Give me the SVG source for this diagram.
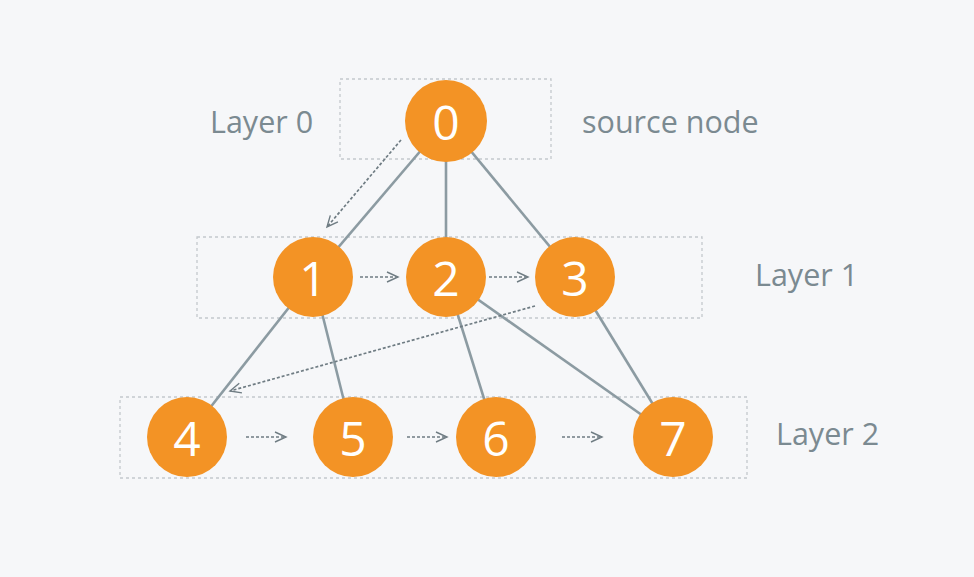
<svg xmlns="http://www.w3.org/2000/svg" width="974" height="577" viewBox="0 0 974 577">
<defs>
<style>
.box{fill:none;stroke:#c4c9cd;stroke-width:1.3;stroke-dasharray:3 3}
.edge{stroke:#8c9ba2;stroke-width:2.6;fill:none}
.arr{stroke:#6f7c83;stroke-width:1.7;stroke-dasharray:3 2;fill:none}
.node{fill:#f39325}
.num{font-family:"Open Sans","Noto Sans",sans-serif;font-size:48px;fill:#ffffff;text-anchor:middle;dominant-baseline:central}
.lbl{font-family:"Open Sans","Noto Sans",sans-serif;font-size:30.5px;fill:#7b8a91}
</style>
<marker id="ah" markerWidth="14" markerHeight="14" refX="12" refY="6" orient="auto" markerUnits="userSpaceOnUse">
<path d="M1,1 L12,6 L1,11" fill="none" stroke="#6f7c83" stroke-width="1.4"/>
</marker>
</defs>
<rect width="974" height="577" fill="#f6f7f9"/>
<g id="layers">
<rect class="box" x="340" y="79" width="211" height="80"/>
<rect class="box" x="197" y="237" width="505" height="81"/>
<rect class="box" x="120" y="397" width="627" height="81"/>
</g>
<g id="labels">
<text class="lbl" x="210" y="133">Layer 0</text>
<text class="lbl" x="582" y="133">source node</text>
<text class="lbl" x="755" y="286">Layer 1</text>
<text class="lbl" x="776" y="445">Layer 2</text>
</g>
<g id="connectors">
<line class="edge" x1="446" y1="121" x2="313" y2="277"/>
<line class="edge" x1="446" y1="121" x2="446" y2="277"/>
<line class="edge" x1="446" y1="121" x2="575" y2="277"/>
<line class="edge" x1="313" y1="277" x2="187" y2="437"/>
<line class="edge" x1="313" y1="277" x2="353" y2="437"/>
<line class="edge" x1="446" y1="277" x2="496" y2="437"/>
<line class="edge" x1="446" y1="277" x2="673" y2="437"/>
<line class="edge" x1="575" y1="277" x2="673" y2="437"/>
<line class="arr" x1="401" y1="140" x2="327" y2="227" marker-end="url(#ah)"/>
<line class="arr" x1="360" y1="277" x2="398" y2="277" marker-end="url(#ah)"/>
<line class="arr" x1="489" y1="277" x2="528" y2="277" marker-end="url(#ah)"/>
<line class="arr" x1="535" y1="306" x2="230" y2="391" marker-end="url(#ah)"/>
<line class="arr" x1="246" y1="437" x2="286" y2="437" marker-end="url(#ah)"/>
<line class="arr" x1="407" y1="437" x2="447" y2="437" marker-end="url(#ah)"/>
<line class="arr" x1="562" y1="437" x2="602" y2="437" marker-end="url(#ah)"/>
</g>
<g id="n0"><circle class="node" cx="446" cy="121" r="41"/><text class="num" x="446" y="121">0</text></g>
<g id="n1"><circle class="node" cx="313" cy="277" r="40"/><text class="num" x="313" y="277">1</text></g>
<g id="n2"><circle class="node" cx="446" cy="277" r="40"/><text class="num" x="446" y="277">2</text></g>
<g id="n3"><circle class="node" cx="575" cy="277" r="40"/><text class="num" x="575" y="277">3</text></g>
<g id="n4"><circle class="node" cx="187" cy="437" r="40"/><text class="num" x="187" y="437">4</text></g>
<g id="n5"><circle class="node" cx="353" cy="437" r="40"/><text class="num" x="353" y="437">5</text></g>
<g id="n6"><circle class="node" cx="496" cy="437" r="40"/><text class="num" x="496" y="437">6</text></g>
<g id="n7"><circle class="node" cx="673" cy="437" r="40"/><text class="num" x="673" y="437">7</text></g>
</svg>
